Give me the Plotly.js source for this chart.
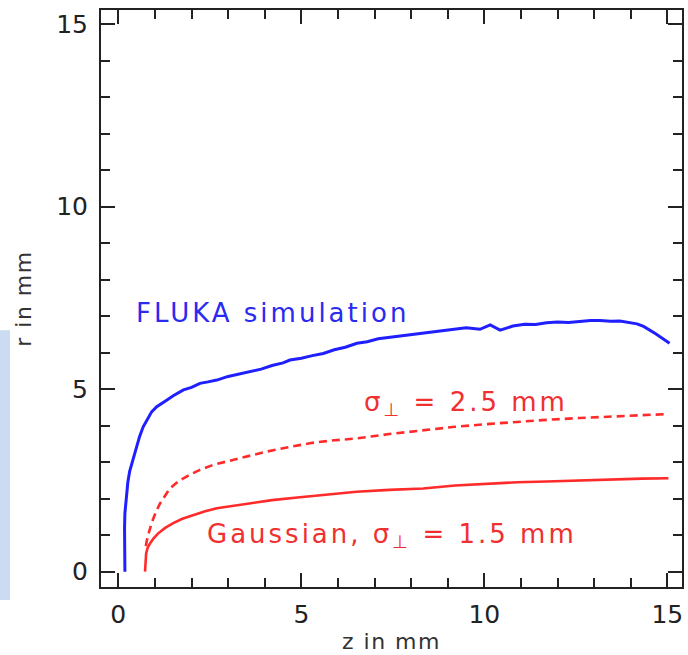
<!DOCTYPE html>
<html>
<head>
<meta charset="utf-8">
<script src="https://cdn.plot.ly/plotly-3.0.1.min.js"></script>
<style>html,body{margin:0;padding:0;background:#fff;}#chart{width:688px;height:655px;}</style>
</head>
<body>
<div id="chart"></div>
<script>
// FLUKA simulation (blue, noisy)
const flukaZ = [0.18,0.17,0.16,0.17,0.18,0.22,0.26,0.31,0.37,0.43,0.5,0.58,0.68,0.8,0.91,1.05,1.2,1.32,1.5,1.78,2.0,2.23,2.45,2.69,3.0,3.3,3.6,3.9,4.2,4.5,4.69,5.0,5.3,5.6,5.9,6.2,6.52,6.8,7.1,7.4,7.7,8.0,8.33,8.6,8.9,9.2,9.5,9.88,10.16,10.43,10.78,11.1,11.4,11.7,12.0,12.3,12.6,12.9,13.16,13.45,13.7,13.95,14.17,14.35,14.53,14.68,14.8,14.93,15.06];
const flukaR = [0,0.4,0.8,1.2,1.6,2.1,2.45,2.75,2.97,3.2,3.42,3.7,3.97,4.2,4.38,4.52,4.63,4.7,4.82,4.98,5.05,5.16,5.2,5.25,5.35,5.42,5.5,5.55,5.65,5.72,5.8,5.85,5.92,5.98,6.08,6.15,6.26,6.3,6.38,6.42,6.45,6.5,6.53,6.58,6.62,6.65,6.68,6.64,6.76,6.62,6.73,6.78,6.77,6.82,6.84,6.83,6.86,6.88,6.88,6.86,6.87,6.82,6.79,6.72,6.62,6.52,6.44,6.36,6.26];
// Gaussian sigma = 2.5 mm (red dashed)
const wideZ = [0.75,0.8,0.91,1.02,1.14,1.27,1.41,1.6,1.78,2.0,2.23,2.6,3.14,3.6,4.05,4.69,5.3,5.9,6.51,7.4,8.33,9.2,10.16,10.9,11.7,12.6,13.52,14.3,15.03];
const wideR = [0.7,0.95,1.33,1.62,1.87,2.08,2.28,2.44,2.56,2.68,2.79,2.93,3.06,3.18,3.29,3.42,3.53,3.6,3.65,3.77,3.88,3.97,4.05,4.11,4.16,4.21,4.25,4.29,4.32];
// Gaussian sigma = 1.5 mm (red solid)
const narrowZ = [0.73,0.74,0.76,0.8,0.87,0.97,1.09,1.28,1.5,1.75,2.05,2.35,2.69,3.1,3.6,4.2,4.96,5.7,6.51,7.4,8.33,9.2,10.16,10.9,11.7,12.6,13.52,14.3,15.03];
const narrowR = [0,0.25,0.5,0.65,0.78,0.92,1.05,1.2,1.33,1.45,1.55,1.65,1.74,1.8,1.87,1.96,2.04,2.12,2.19,2.24,2.28,2.36,2.42,2.45,2.47,2.5,2.53,2.55,2.56];

const tickVals = [0,5,10,15];
const tickText = ['0','5','10','15'];
const labelFluka = 'FLUKA simulation';
const labelWide = 'σ<sub>⊥</sub> = 2.5 mm';
const labelNarrow = 'Gaussian, σ<sub>⊥</sub> = 1.5 mm';
const xTitle = 'z in mm';
const yTitle = 'r in mm';

const BLUE = '#1f1fff';
const RED = '#ff2a2a';
const FONT = 'DejaVu Sans, sans-serif';

const traces = [
  {x: flukaZ, y: flukaR, mode: 'lines', line: {color: BLUE, width: 3}, hoverinfo: 'skip'},
  {x: wideZ, y: wideR, mode: 'lines', line: {color: RED, width: 2.6, dash: '8px,5px'}, hoverinfo: 'skip'},
  {x: narrowZ, y: narrowR, mode: 'lines', line: {color: RED, width: 2.6}, hoverinfo: 'skip'}
];

function sp(t, ls) { return '<span style="letter-spacing:' + ls + 'px">' + t + '</span>'; }

const axisCommon = {
  tickmode: 'array', tickvals: tickVals, ticktext: tickText,
  ticks: 'inside', ticklen: 14, tickwidth: 2, tickcolor: '#222',
  showline: true, linecolor: '#222', linewidth: 2, mirror: 'allticks',
  showgrid: false, zeroline: false,
  minor: {dtick: 1, ticks: 'inside', ticklen: 9, tickwidth: 2, tickcolor: '#222', showgrid: false},
  tickfont: {family: FONT, size: 25, color: '#222'}
};

const layout = {
  width: 688, height: 655,
  margin: {l: 101, r: 6, t: 10, b: 68},
  paper_bgcolor: '#fff', plot_bgcolor: '#fff',
  showlegend: false,
  xaxis: Object.assign({}, axisCommon, {
    range: [-0.473, 15.4],
    ticklabelstandoff: 4,
    title: {text: sp(xTitle, 1.5), font: {family: FONT, size: 22, color: '#333'}, standoff: 6}
  }),
  yaxis: Object.assign({}, axisCommon, {
    range: [-0.42, 15.39],
    ticklabelstandoff: 6,
    title: {text: sp(yTitle, 1.5), font: {family: FONT, size: 22, color: '#333'}, standoff: 18}
  }),
  annotations: [
    {x: 0.44, y: 7.09, xref: 'x', yref: 'y', xanchor: 'left', yanchor: 'middle', showarrow: false,
     text: sp(labelFluka, 3), font: {family: FONT, size: 26, color: '#2a2af0'}},
    {x: 6.65, y: 4.6, xref: 'x', yref: 'y', xanchor: 'left', yanchor: 'middle', showarrow: false,
     text: sp(labelWide, 3), font: {family: FONT, size: 26, color: '#f03030'}},
    {x: 2.37, y: 1.0, xref: 'x', yref: 'y', xanchor: 'left', yanchor: 'middle', showarrow: false,
     text: sp(labelNarrow, 3), font: {family: FONT, size: 26, color: '#f03030'}}
  ],
  shapes: [
    {type: 'rect', xref: 'paper', yref: 'paper', x0: -0.1738, x1: -0.1566, y0: -0.0225, y1: 0.445,
     fillcolor: 'rgba(140,175,225,0.45)', line: {width: 0}, layer: 'below'}
  ]
};

Plotly.newPlot('chart', traces, layout, {displayModeBar: false, staticPlot: true});
</script>
</body>
</html>
